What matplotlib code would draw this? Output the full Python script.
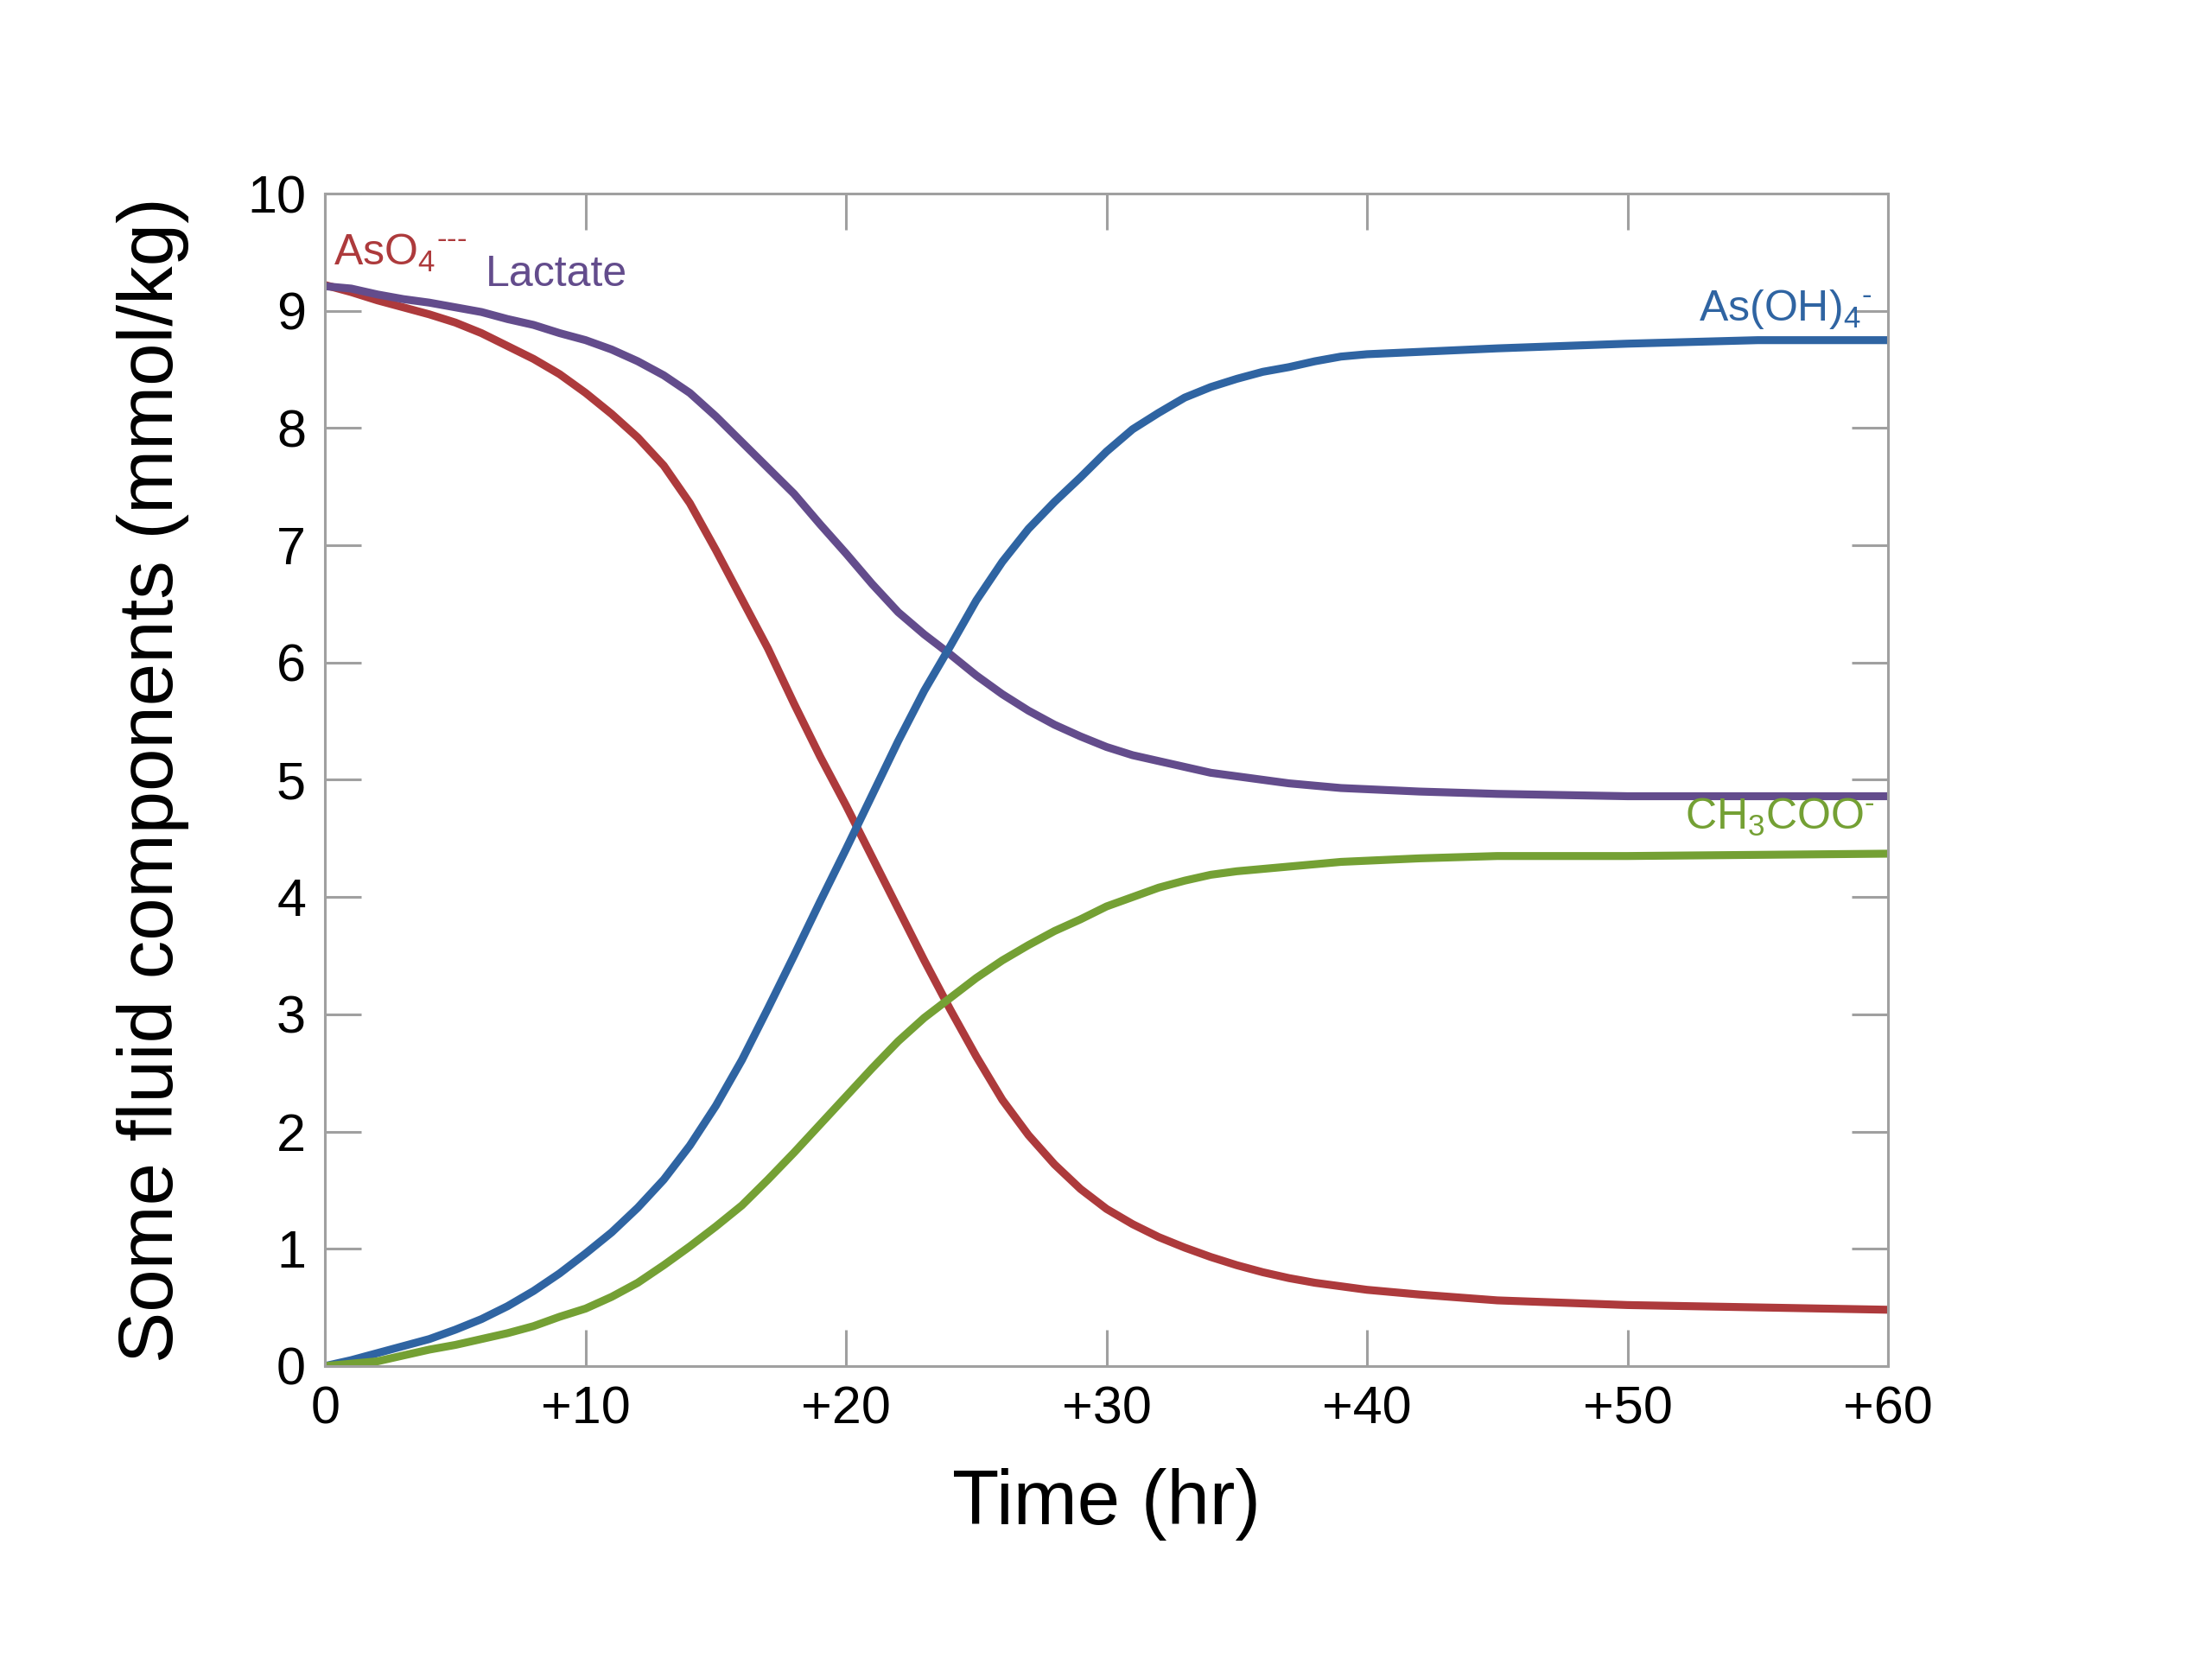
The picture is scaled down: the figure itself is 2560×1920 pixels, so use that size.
import numpy as np
import matplotlib
matplotlib.use("Agg")
import matplotlib.pyplot as plt

plt.rcParams['font.family'] = ['Liberation Sans', 'DejaVu Sans']
plt.rcParams['mathtext.fontset'] = 'custom'
plt.rcParams['mathtext.rm'] = 'Liberation Sans'
plt.rcParams['mathtext.it'] = 'Liberation Sans'
plt.rcParams['mathtext.default'] = 'regular'

# time axis (hr)
time_hr = [0, 1, 2, 3, 4, 5, 6, 7, 8, 9, 10, 11, 12, 13, 14, 15, 16, 17, 18, 19,
           20, 21, 22, 23, 24, 25, 26, 27, 28, 29, 30, 31, 32, 33, 34, 35, 36, 37,
           38, 39, 40, 42, 45, 50, 55, 60]

aso4 = [9.22, 9.16, 9.09, 9.03, 8.97, 8.90, 8.81, 8.70, 8.59, 8.46, 8.30, 8.12,
        7.92, 7.68, 7.36, 6.96, 6.54, 6.12, 5.65, 5.20, 4.78, 4.34, 3.90, 3.46,
        3.04, 2.64, 2.27, 1.97, 1.72, 1.51, 1.34, 1.21, 1.10, 1.01, 0.93, 0.86,
        0.80, 0.75, 0.71, 0.68, 0.65, 0.61, 0.56, 0.52, 0.50, 0.48]

lactate = [9.21, 9.19, 9.14, 9.10, 9.07, 9.03, 8.99, 8.93, 8.88, 8.81, 8.75, 8.67,
           8.57, 8.45, 8.30, 8.10, 7.88, 7.66, 7.44, 7.18, 6.93, 6.67, 6.43, 6.24,
           6.07, 5.89, 5.73, 5.59, 5.47, 5.37, 5.28, 5.21, 5.16, 5.11, 5.06, 5.03,
           5.00, 4.97, 4.95, 4.93, 4.92, 4.90, 4.88, 4.86, 4.86, 4.86]

asoh4 = [0.00, 0.05, 0.11, 0.17, 0.23, 0.31, 0.40, 0.51, 0.64, 0.79, 0.96, 1.14,
         1.35, 1.59, 1.88, 2.22, 2.61, 3.05, 3.50, 3.96, 4.41, 4.87, 5.33, 5.76,
         6.14, 6.53, 6.86, 7.14, 7.37, 7.58, 7.80, 7.99, 8.13, 8.26, 8.35, 8.42,
         8.48, 8.52, 8.57, 8.61, 8.63, 8.65, 8.68, 8.72, 8.75, 8.75]

acetate = [0.00, 0.02, 0.04, 0.09, 0.14, 0.18, 0.23, 0.28, 0.34, 0.42, 0.49, 0.59,
           0.71, 0.86, 1.02, 1.19, 1.37, 1.59, 1.82, 2.06, 2.30, 2.54, 2.77, 2.97,
           3.14, 3.31, 3.46, 3.59, 3.71, 3.81, 3.92, 4.00, 4.08, 4.14, 4.19, 4.22,
           4.24, 4.26, 4.28, 4.30, 4.31, 4.33, 4.35, 4.35, 4.36, 4.37]

xticks = [0, 10, 20, 30, 40, 50, 60]
xtick_labels = ['0', '+10', '+20', '+30', '+40', '+50', '+60']
yticks = list(range(0, 11))

red = '#ad3a3c'
purple = '#634c8c'
blue = '#2f64a2'
green = '#74a034'
grey = '#a0a0a0'

fig = plt.figure(figsize=(12.8, 9.6), dpi=200)
ax = fig.add_axes([0.147, 0.1766, 0.7065, 0.7067])

lw = 3.3
ax.plot(time_hr, aso4, color=red, lw=lw, solid_capstyle='round')
ax.plot(time_hr, lactate, color=purple, lw=lw, solid_capstyle='round')
ax.plot(time_hr, asoh4, color=blue, lw=lw, solid_capstyle='round')
ax.plot(time_hr, acetate, color=green, lw=lw, solid_capstyle='round')

ax.set_xlim(0, 60)
ax.set_ylim(0, 10)
ax.set_xticks(xticks)
ax.set_xticklabels(xtick_labels)
ax.set_yticks(yticks)

for s in ax.spines.values():
    s.set_color(grey)
    s.set_linewidth(1.1)
ax.tick_params(direction='in', length=15, width=1.1, color=grey,
               top=True, right=True, labelsize=22, pad=8)

ax.set_xlabel('Time (hr)', fontsize=32, labelpad=14)
ax.set_ylabel('Some fluid components (mmol/kg)', fontsize=32, labelpad=24)

# species labels
ax.text(0.33, 9.39, r'AsO$_4$$^{\text{---}}$', color=red, fontsize=18, va='baseline', ha='left')
ax.text(6.15, 9.21, 'Lactate', color=purple, fontsize=18, va='baseline', ha='left')
ax.text(59.4, 8.92, r'As(OH)$_4$$^{\text{-}}$', color=blue, fontsize=18, va='baseline', ha='right')
ax.text(59.5, 4.58, r'CH$_3$COO$^{\text{-}}$', color=green, fontsize=18, va='baseline', ha='right')

fig.savefig('out.png', dpi=200, facecolor='white')
